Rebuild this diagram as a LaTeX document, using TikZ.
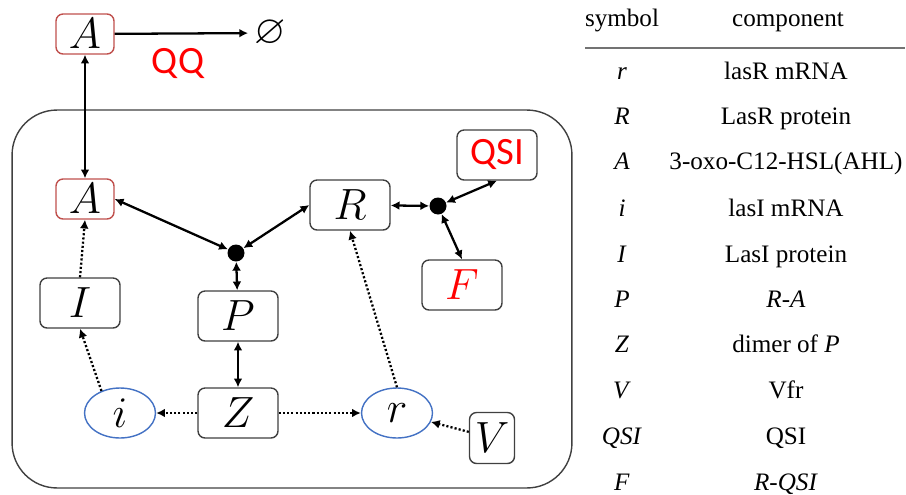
\documentclass[tikz,border=0pt]{standalone}
\usepackage{amsmath,amssymb}
\usepackage{fontspec}
\setmainfont{Liberation Serif}
\newfontfamily\labelsans{Carlito}
\usetikzlibrary{shapes.geometric,arrows.meta,positioning}
\definecolor{boxgray}{RGB}{64,64,64}
\definecolor{ahlred}{RGB}{192,80,77}
\definecolor{mrnablue}{RGB}{68,114,196}
\definecolor{inhibred}{RGB}{255,0,0}
\tikzset{
specbox/.style={rectangle,rounded corners=4pt,draw=boxgray,line width=0.8pt,fill=white,
  minimum width=1.6cm,minimum height=1.0cm,inner sep=1pt,font=\fontsize{23}{27}\selectfont},
ahlbox/.style={specbox,draw=ahlred,minimum width=1.16cm,minimum height=0.8cm},
mrnanode/.style={ellipse,draw=mrnablue,line width=0.8pt,fill=white,
  minimum width=1.42cm,minimum height=1.0cm,inner sep=0pt,font=\fontsize{23}{27}\selectfont},
hubdot/.style={circle,fill=black,minimum size=0.34cm,inner sep=0pt},
bindarr/.style={line width=1.3pt,{Latex[length=5pt,width=5pt]}-{Latex[length=5pt,width=5pt]}},
exprarr/.style={line width=1.3pt,dash pattern=on 1.2pt off 1.2pt,-{Latex[length=5pt,width=5pt]}},
cellbox/.style={rectangle,draw=boxgray,line width=0.8pt,rounded corners=0.9cm,
  minimum width=11.2cm,minimum height=7.56cm},
tabtext/.style={font=\fontsize{14.3}{17}\selectfont,text height=10pt,text depth=3pt}
}
\begin{document}
\begin{tikzpicture}[x=0.02cm,y=-0.02cm]
\useasboundingbox (0,0) rectangle (906,494);
% cell
\node[cellbox] (cell) at (292,299) {};
% species
\node[ahlbox] (Aout) at (85,34) {$A$};
\node[font=\fontsize{23}{27}\selectfont] (void) at (270,33) {$\varnothing$};
\node[font=\labelsans\fontsize{22}{26}\selectfont,text=inhibred] (qq) at (178,64) {QQ};
\node[ahlbox] (Ain) at (85,199) {$A$};
\node[specbox] (I) at (80,303) {$I$};
\node[specbox] (P) at (238,316) {$P$};
\node[specbox] (Z) at (238,413) {$Z$};
\node[specbox] (R) at (350,205) {$R$};
\node[specbox,text=inhibred,font=\labelsans\fontsize{22}{26}\selectfont] (QSI) at (497,155) {QSI};
\node[specbox,text=inhibred] (F) at (462,285) {$F$};
\node[specbox,minimum width=0.9cm,minimum height=1.02cm] (V) at (492,438) {$V$};
\node[mrnanode] (i) at (120,413) {$i$};
\node[mrnanode] (r) at (397,413) {$r$};
\node[hubdot] (hubP) at (236,253) {};
\node[hubdot] (hubF) at (438,206) {};
% reactions
\draw[line width=1.3pt,-{Latex[length=5pt,width=5pt]}] (Aout) -- (void);
\draw[bindarr] (Aout) -- (Ain);
\draw[bindarr] (Ain.east) -- (hubP);
\draw[bindarr] (hubP) -- (R.west);
\foreach \a/\b in {hubP/P,P/Z,R/hubF} \draw[bindarr] (\a) -- (\b);
\draw[bindarr] (hubF) -- (QSI.south);
\draw[bindarr] (hubF) -- (F.north);
% expression
\foreach \a/\b in {Z/i,Z/r,V/r} \draw[exprarr] (\a) -- (\b);
\draw[exprarr] (i.130) -- (I.south);
\draw[exprarr] (I.north) -- (Ain.south);
\draw[exprarr] (r.north) -- (R.south);
% table
\node[tabtext] (hsym) at (622,20) {symbol};
\node[tabtext] (hcomp) at (788,20) {component};
\draw[black!55,line width=0.6pt] (585,48) -- (905,48);
\foreach \s/\c/\y [count=\k] in {r/lasR mRNA/73,R/LasR protein/118,A/3-oxo-C12-HSL(AHL)/163,
  i/lasI mRNA/210,I/LasI protein/256,P/\textit{R-A}/301,Z/dimer of \textit{P}/346,
  V/Vfr/392,QSI/QSI/438,F/\textit{R-QSI}/484}{
  \node[tabtext] (sym\k) at (622,\y) {\textit{\s}};
  \node[tabtext] (comp\k) at (786,\y) {\c};
}
\end{tikzpicture}
\end{document}
